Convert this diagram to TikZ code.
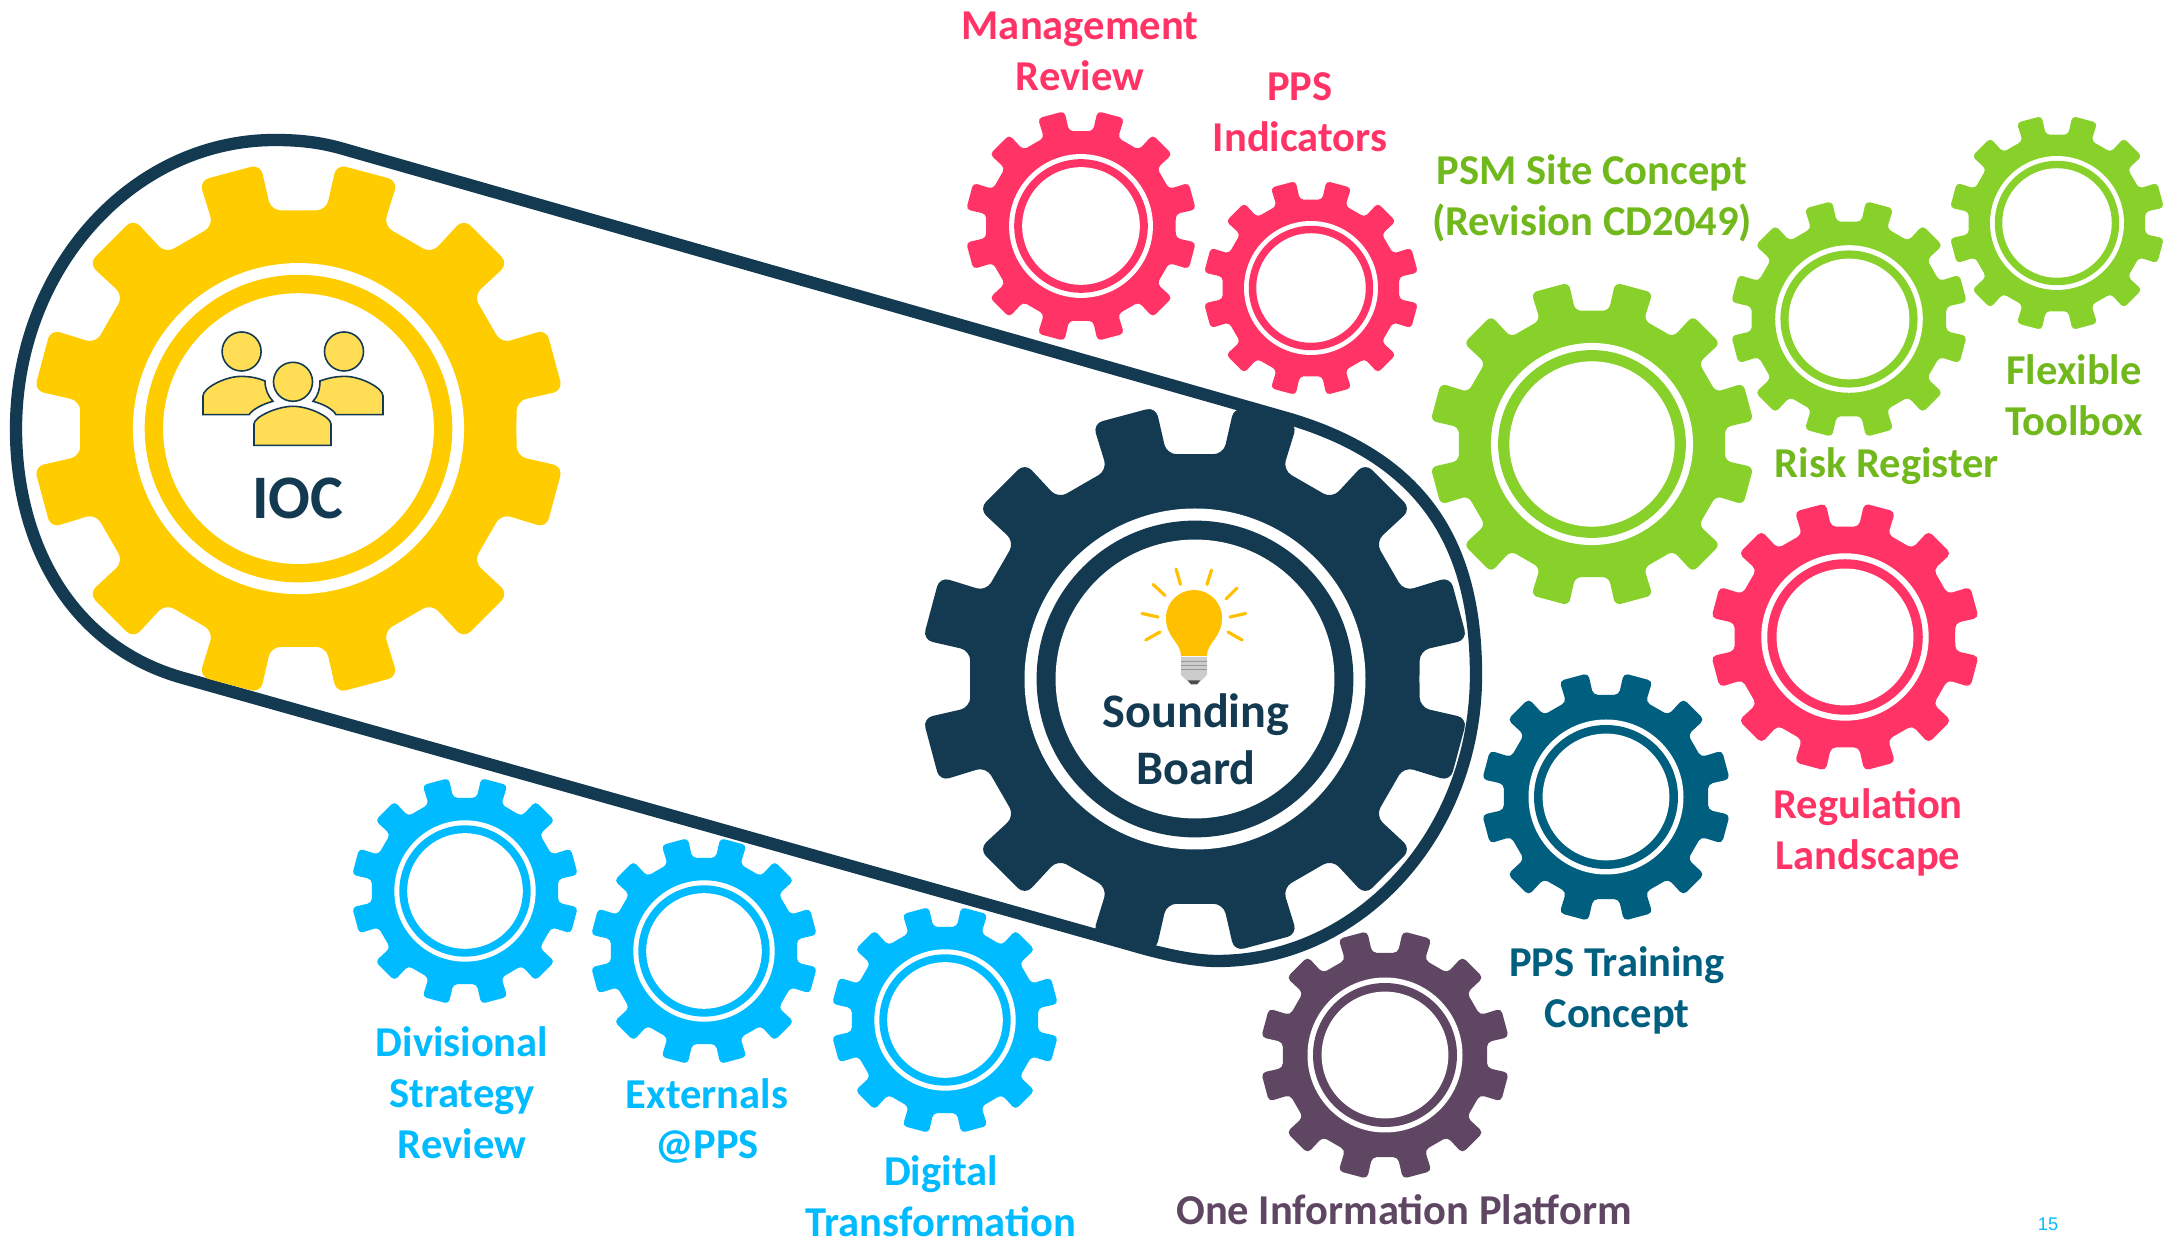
\documentclass[tikz,border=0pt]{standalone}
\usepackage{fontspec}
\usepackage{xcolor}
\setmainfont{Carlito}
\newfontfamily\pagefont{Liberation Sans}
\usetikzlibrary{positioning}

\definecolor{navy}{HTML}{133A51}
\definecolor{gold}{HTML}{FFCC00}
\definecolor{bulbgold}{HTML}{FFC000}
\definecolor{facegold}{HTML}{FFDD55}
\definecolor{rose}{HTML}{FF3366}
\definecolor{lime}{HTML}{88D12A}
\definecolor{limetext}{HTML}{70B81C}
\definecolor{sky}{HTML}{00BBFF}
\definecolor{teal}{HTML}{005F7F}
\definecolor{plum}{HTML}{5F4763}

\tikzset{
    gearlabel/.style={align=center, inner sep=0pt, font=\bfseries\fontsize{12.1}{14.5}\selectfont},
    hublabel/.style={align=center, inner sep=0pt, text=navy, font=\bfseries\fontsize{13.7}{16.2}\selectfont},
    person/.style={fill=facegold, draw=navy, line width=0.45pt},
    ray/.style={draw=bulbgold, line width=0.9pt, line cap=round}
}

% x, y, outer radius, colour
\newcommand{\gearwheel}[4]{
    \begin{scope}[shift={(#1,#2)}]
        \fill[#4, rounded corners=#3*0.0103pt] (0.816*#3,0)
            \foreach \k in {0,...,11}{
                -- (\k*30+7.2:0.824*#3) -- (\k*30+8.2:#3) -- (\k*30+21.8:#3) -- (\k*30+22.8:0.824*#3)
            } -- cycle;
        \fill[white] (0,0) circle[radius=0.62*#3];
        \fill[#4] (0,0) circle[radius=0.576*#3];
        \fill[white] (0,0) circle[radius=0.507*#3];
    \end{scope}
}

\begin{document}
\begin{tikzpicture}[x=0.01cm,y=-0.01cm]
    \useasboundingbox (0,0) rectangle (2177,1240);

    % Belt
    \draw[navy, line width=3.5pt, line join=round] (340,148) -- (1290,419)
        .. controls (1420,458) and (1476,540) .. (1476,675)
        .. controls (1476,833) and (1360,961) .. (1217,961)
        .. controls (1190,961) and (1155,952) .. (1130,944.6)
        -- (183,678)
        .. controls (72,647) and (16,545) .. (16,429)
        .. controls (16,269) and (132,140) .. (275,140)
        .. controls (298,140) and (318,142) .. (340,148) -- cycle;

    % Main gears
    \gearwheel{298.5}{428.6}{267}{gold}
    \gearwheel{1195}{679}{275}{navy}

    % Small gears
    \gearwheel{1081}{226}{116}{rose}
    \gearwheel{1311}{288}{108}{rose}
    \gearwheel{1592}{444}{163}{lime}
    \gearwheel{1849}{319}{119}{lime}
    \gearwheel{2057}{223}{108}{lime}
    \gearwheel{1845}{637}{135}{rose}
    \gearwheel{1606}{797}{125}{teal}
    \gearwheel{1385}{1055}{125}{plum}
    \gearwheel{465}{891}{114}{sky}
    \gearwheel{704}{951}{114}{sky}
    \gearwheel{945}{1020}{114}{sky}

    % People
    \filldraw[person] (203,414.7) -- (203,396) .. controls (203,388) and (225,376.4) .. (241,376.4) .. controls (250,376.4) and (258,378) .. (265,381)
        .. controls (265,389) and (268,396) .. (273,401.3) .. controls (263,404) and (253,409) .. (249,414.7) -- cycle;
    \filldraw[person] (383,414.7) -- (383,396) .. controls (383,388) and (361,376.4) .. (345,376.4) .. controls (336,376.4) and (328,378) .. (320,381)
        .. controls (320,389) and (318,396) .. (313,401.3) .. controls (323,404) and (333,409) .. (336,414.7) -- cycle;
    \filldraw[person] (254,445.3) -- (254,424) .. controls (254,417) and (277,406.3) .. (293,406.3) .. controls (309,406.3) and (331,417) .. (331,424) -- (331,445.3) -- cycle;
    \filldraw[person] (241.6,351.5) circle[radius=0.195cm];
    \filldraw[person] (344,351.5) circle[radius=0.195cm];
    \filldraw[person] (293,381.8) circle[radius=0.195cm];

    % Bulb
    \fill[bulbgold] (1181,656) .. controls (1181,642) and (1166,638) .. (1166,618) .. controls (1166,602) and (1179,590) .. (1194,590)
        .. controls (1209,590) and (1222,602) .. (1222,618) .. controls (1222,638) and (1207,642) .. (1207,656) -- cycle;
    \fill[gray!40] (1181,657) -- (1207,657) -- (1207,675) -- (1199,683) -- (1189,683) -- (1181,675) -- cycle;
    \draw[gray!80, line width=0.2pt] (1181,661) -- (1207,661) (1181,665) -- (1207,665) (1181,669) -- (1207,669);
    \fill[gray!60!black] (1188,680.5) -- (1200,680.5) -- (1197,684.5) -- (1191,684.5) -- cycle;
    \draw[ray] (1176,569) -- (1180.5,584.4);
    \draw[ray] (1211.5,570) -- (1207,584.4);
    \draw[ray] (1153,584.4) -- (1165,595.5);
    \draw[ray] (1237,588) -- (1226,599);
    \draw[ray] (1142,613.5) -- (1158,617);
    \draw[ray] (1245.6,613.5) -- (1230,617);
    \draw[ray] (1145.7,640) -- (1160,632);
    \draw[ray] (1242,640) -- (1228,632);

    % Labels
    \node[text=navy, inner sep=0pt, font=\bfseries\fontsize{17.6}{20}\selectfont] (ioc) at (298,498) {IOC};
    \node[hublabel] (sounding) at (1196,739) {Sounding\\Board};
    \node[gearlabel, text=rose] (mgmt) at (1080,51) {Management\\Review};
    \node[gearlabel, text=rose] (indicators) at (1300,112) {PPS\\Indicators};
    \node[gearlabel, text=limetext] (psm) at (1592,198) {PSM Site Concept\\(Revision CD2049)};
    \node[gearlabel, text=limetext] (risk) at (1887,466) {Risk Register};
    \node[gearlabel, text=limetext] (toolbox) at (2074,395) {Flexible\\Toolbox};
    \node[gearlabel, text=rose] (regulation) at (1868,832) {Regulation\\Landscape};
    \node[gearlabel, text=teal] (training) at (1617,990) {PPS Training\\Concept};
    \node[gearlabel, text=plum] (platform) at (1404,1210) {One Information Platform};
    \node[gearlabel, text=sky] (divisional) at (462,1093) {Divisional\\Strategy\\Review};
    \node[gearlabel, text=sky] (externals) at (707,1121) {Externals\\@PPS};
    \node[gearlabel, text=sky] (digital) at (941,1196) {Digital\\Transformation};
    \node[text=sky, inner sep=0pt, font=\pagefont\fontsize{5.2}{6}\selectfont] (pagenum) at (2048,1224) {15};
\end{tikzpicture}
\end{document}
